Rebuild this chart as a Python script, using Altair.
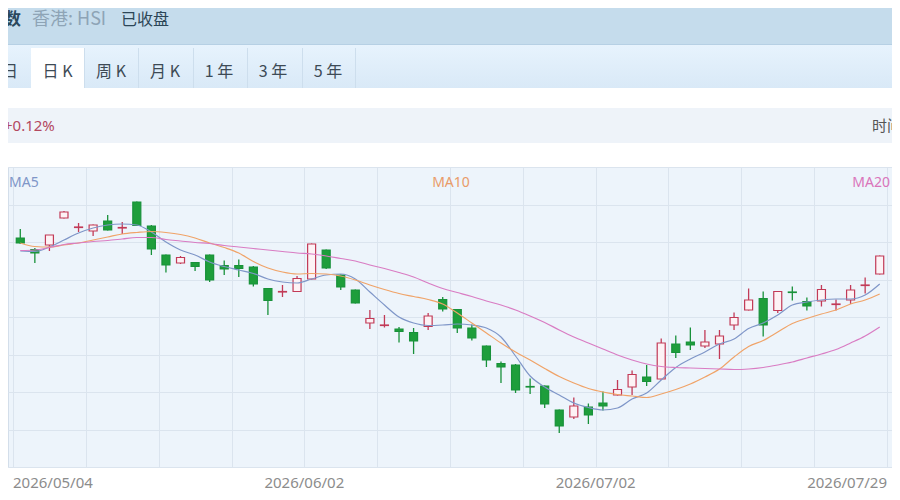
import altair as alt
import pandas as pd

# ---------------- data ----------------
dates = (
    ["2026/05/%02d" % d for d in [4, 5, 6, 7, 8, 11, 12, 13, 14, 15, 18, 19, 20, 21, 22, 26, 27, 28, 29]]
    + ["2026/06/%02d" % d for d in [1, 2, 3, 4, 5, 8, 9, 10, 11, 12, 15, 16, 17, 18, 22, 23, 24, 25, 26, 29, 30]]
    + ["2026/07/%02d" % d for d in [2, 3, 6, 7, 8, 9, 10, 13, 14, 15, 16, 17, 20, 21, 22, 23, 24, 27, 28, 29]]
)

open_ = [26290, 26175, 26220, 26490, 26395, 26360, 26460, 26390, 26650, 26410,
         26120, 26040, 26045, 26120, 26015, 26015, 26000, 25785, 25750, 25755,
         25880, 26170, 25920, 25770, 25440, 25415, 25380, 25345, 25405, 25675,
         25575, 25390, 25210, 25035, 25020, 24805, 24810, 24570, 24500, 24600,
         24640, 24720, 24800, 24900, 24880, 25230, 25250, 25210, 25230, 25420,
         25570, 25685, 25565, 25750, 25655, 25660, 25625, 25670, 25815, 25930]
high = [26380, 26190, 26320, 26560, 26440, 26425, 26520, 26450, 26655, 26420,
        26125, 26110, 26050, 26125, 26065, 26075, 26010, 25790, 25820, 25910,
        26235, 26175, 25925, 25775, 25570, 25520, 25400, 25390, 25540, 25700,
        25580, 25425, 25215, 25055, 25030, 24885, 24815, 24575, 24695, 24635,
        24755, 24870, 24965, 25020, 25285, 25315, 25395, 25370, 25370, 25545,
        25785, 25755, 25760, 25805, 25695, 25820, 25675, 25820, 25895, 26115]
low = [26230, 26040, 26160, 26485, 26350, 26310, 26365, 26330, 26410, 26120,
       25945, 26030, 25960, 25850, 25920, 25900, 25805, 25520, 25700, 25750,
       25875, 25980, 25770, 25635, 25380, 25395, 25245, 25130, 25370, 25555,
       25340, 25265, 25000, 24840, 24740, 24730, 24590, 24340, 24480, 24430,
       24565, 24715, 24720, 24810, 24875, 25090, 25170, 25190, 25080, 25370,
       25565, 25305, 25540, 25665, 25565, 25605, 25565, 25630, 25735, 25925]
close = [26240, 26140, 26320, 26550, 26400, 26420, 26370, 26395, 26415, 26180,
         26020, 26095, 26005, 25870, 25980, 25985, 25830, 25665, 25755, 25885,
         26230, 25990, 25800, 25640, 25485, 25420, 25355, 25260, 25510, 25580,
         25390, 25290, 25070, 25000, 24770, 24800, 24630, 24410, 24610, 24520,
         24610, 24775, 24925, 24855, 25240, 25145, 25220, 25250, 25310, 25495,
         25670, 25420, 25755, 25745, 25610, 25775, 25630, 25770, 25820, 26110]

ma5 = [26160, 26155, 26200, 26270, 26340, 26390, 26420, 26430, 26420, 26350,
       26250, 26170, 26120, 26050, 26005, 25970, 25935, 25880, 25850, 25840,
       25880, 25920, 25930, 25880, 25750, 25620, 25500, 25440, 25415, 25420,
       25430, 25420, 25390, 25300, 25110, 24910, 24800, 24720, 24640, 24595,
       24570, 24590, 24680, 24740, 24870, 24995, 25080, 25150, 25230, 25280,
       25385, 25440, 25520, 25620, 25650, 25670, 25680, 25680, 25720, 25830]
ma10 = [26240, 26205, 26200, 26220, 26240, 26270, 26300, 26330, 26345, 26355,
        26345, 26325, 26290, 26240, 26195, 26140, 26055, 25990, 25950, 25930,
        25935, 25930, 25910, 25870, 25820, 25775, 25735, 25705, 25675, 25630,
        25540, 25440, 25340, 25240, 25150, 25070, 24985, 24905, 24840, 24785,
        24750, 24725, 24710, 24695, 24730, 24775, 24830, 24900, 24980, 25100,
        25205, 25265, 25350, 25435, 25485, 25530, 25570, 25630, 25670, 25730]
ma20 = [26165, 26170, 26195, 26225, 26240, 26255, 26265, 26280, 26295, 26295,
        26275, 26260, 26245, 26235, 26215, 26200, 26185, 26170, 26155, 26140,
        26130, 26110, 26085, 26060, 26020, 25985, 25945, 25900, 25840, 25785,
        25745, 25705, 25660, 25620, 25570, 25510, 25445, 25370, 25300, 25240,
        25180, 25120, 25070, 25030, 25005, 24995, 24990, 24985, 24980, 24975,
        24980, 24995, 25020, 25050, 25090, 25130, 25175, 25240, 25310, 25400]

ma_names = ["MA5", "MA10", "MA20"]
ma_colors = ["#7f96c8", "#f0a368", "#d97cc3"]

x_grid = [-0.5, 4.5, 9.5, 14.5, 19.5, 24.5, 29.5, 34.5, 39.5, 44.5, 49.5, 54.5, 59.5]
y_grid = [24000, 24375, 24750, 25125, 25500, 25875, 26250, 26625, 27000]
x_label_pos = [-0.5, 19.5, 39.5, 59.5]
x_label_text = ["2026/05/04", "2026/06/02", "2026/07/02", "2026/07/29"]

header_title = ["指数", "香港: HSI", "已收盘"]
tab_labels = ["五日", "日 K", "周 K", "月 K", "1 年", "3 年", "5 年"]
change_text = "+0.12%"
time_text = "时间"

UP = "#c23a57"
DOWN = "#1e9e3b"

# ---------------- tables ----------------
n = len(close)
candles = pd.DataFrame({
    "i": list(range(n)), "date": dates, "open": open_, "high": high,
    "low": low, "close": close,
})
candles["dir"] = ["up" if c >= o else "down" for o, c in zip(open_, close)]

ma_df = pd.concat([
    pd.DataFrame({"i": list(range(n)), "value": vals, "series": name})
    for name, vals in zip(ma_names, [ma5, ma10, ma20])
])

xlab = pd.DataFrame({"i": x_label_pos, "text": x_label_text})

one = pd.DataFrame({"k": [0]})

# ---------------- encodings ----------------
x_scale = alt.Scale(domain=[-0.5, 59.5], nice=False, zero=False)
x_enc = alt.X(
    "i:Q", scale=x_scale,
    axis=alt.Axis(values=x_grid, grid=True, ticks=False, domain=False,
                  labels=False, gridColor="#dbe4ee", gridWidth=1, title=None),
)


def y_enc(field):
    return alt.Y(
        field,
        scale=alt.Scale(domain=[24000, 27000], nice=False, zero=False),
        axis=alt.Axis(values=y_grid, grid=True, ticks=False, domain=False,
                      labels=False, gridColor="#dbe4ee", gridWidth=1, title=None),
    )


dir_stroke = alt.Stroke("dir:N", scale=alt.Scale(domain=["up", "down"], range=[UP, "#18913a"]), legend=None)
dir_fill = alt.Fill("dir:N", scale=alt.Scale(domain=["up", "down"], range=["#fdf2f5", DOWN]), legend=None)

wicks = alt.Chart(candles).mark_rule(strokeWidth=1.3).encode(
    x=x_enc, y=y_enc("low:Q"), y2="high:Q",
    stroke=dir_stroke,
)
bodies = alt.Chart(candles).mark_bar(size=8, strokeWidth=1.2).encode(
    x=x_enc, y=y_enc("open:Q"), y2="close:Q",
    fill=dir_fill, stroke=dir_stroke,
)
lines = alt.Chart(ma_df).mark_line(strokeWidth=1.2, interpolate="monotone").encode(
    x=x_enc, y=y_enc("value:Q"),
    color=alt.Color("series:N", scale=alt.Scale(domain=ma_names, range=ma_colors), legend=None),
    detail="series:N",
)

# date labels under the plot, placed through the x scale
def date_labels(df, align):
    return alt.Chart(df).mark_text(
        align=align, baseline="middle", font="Noto Sans", fontSize=15, color="#8c8c8c",
    ).encode(x=alt.X("i:Q", scale=x_scale), y=alt.value(316), text="text:N")


date_layers = [
    date_labels(xlab.iloc[[0]], "left"),
    date_labels(xlab.iloc[1:3], "center"),
    date_labels(xlab.iloc[[3]], "right"),
]

# ---------------- page chrome (view coords: ref_x - 8, ref_y - 167) ----------------
def box(x1, x2, y1, y2, fill):
    return alt.Chart(one).mark_rect(fill=fill).encode(
        x=alt.value(x1), x2=alt.value(x2), y=alt.value(y1), y2=alt.value(y2))


def label(txt, x, y, size, color, align="left", font="Noto Sans CJK SC", weight="normal"):
    return alt.Chart(one).mark_text(
        align=align, baseline="middle", font=font, fontSize=size, color=color,
        fontWeight=weight,
    ).encode(x=alt.value(x), y=alt.value(y), text=alt.value(txt))


tab_grad = alt.LinearGradient(
    gradient="linear", x1=0, x2=0, y1=0, y2=1,
    stops=[alt.GradientStop(color="#e7f3fd", offset=0),
           alt.GradientStop(color="#d9e9f7", offset=1)])

chrome = [
    box(-8, 884, -175, -122, "#c5dcec"),
    box(-8, 884, -123, -122, "#b6d0e4"),
    alt.Chart(one).mark_rect(fill=tab_grad).encode(
        x=alt.value(-8), x2=alt.value(884), y=alt.value(-122), y2=alt.value(-79)),
    box(23, 76, -119, -79, "#ffffff"),
]
for sx in [76, 130, 185, 239, 294, 347]:
    chrome.append(box(sx, sx + 1, -119, -79, "#cddeed"))
chrome.append(box(-8, 884, -59, -24, "#eef3f9"))

texts = [
    label(header_title[0], 13, -147, 17, "#2a485c", align="right", weight="bold"),
    label(header_title[1], 24, -147, 18, "#8ea4b6"),
    label(header_title[2], 113, -147, 16, "#2c4657"),
    label(tab_labels[0], 10, -95, 16, "#3d4a55", align="right"),
]
for t, cx in zip(tab_labels[1:], [49.5, 103, 157, 211, 265, 320]):
    texts.append(label(t, cx, -95, 16, "#3d4a55", align="center"))
texts += [
    label(change_text, -4, -41, 15, "#b3485f", font="Noto Sans"),
    label(time_text, 864, -41, 15, "#555555"),
    label(ma_names[0], 1, 16, 14, ma_colors[0], font="Noto Sans"),
    label(ma_names[1], 443, 16, 14, "#e99b68", align="center", font="Noto Sans"),
    label(ma_names[2], 882, 16, 14, "#da74ba", align="right", font="Noto Sans"),
]

chart = alt.layer(*chrome, wicks, bodies, lines, *date_layers, *texts).properties(
    width=884, height=300,
    autosize=alt.AutoSizeParams(type="none"),
    padding={"left": 0, "top": 159, "right": 0, "bottom": 25},
    background="#ffffff",
).configure_view(fill="#edf4fb", stroke="#d3deea", strokeWidth=1)

chart.save("out.html", embed_options={"renderer": "svg", "actions": False})
